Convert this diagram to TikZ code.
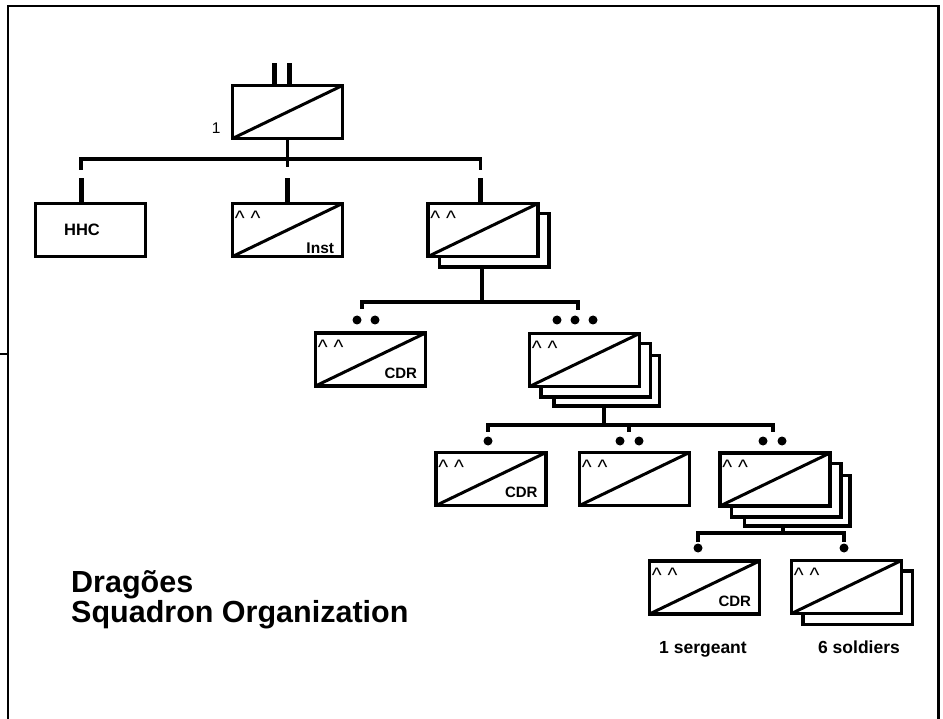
\documentclass[tikz,border=0pt]{standalone}
\usepackage{fontspec}
\setmainfont{Liberation Sans}
\usepackage{tikz}
\usetikzlibrary{backgrounds}
\tikzstyle{unit}=[draw, fill=white, line width=3.5pt, minimum width=110pt, minimum height=53pt, inner sep=0pt]
\tikzstyle{crossed}=[path picture={\draw[line width=3pt] (path picture bounding box.south west) -- (path picture bounding box.north east);}]
\tikzstyle{caret}=[anchor=north west, inner sep=0pt, xshift=4pt, yshift=-9pt, font=\fontsize{21}{21}\selectfont]
\tikzstyle{hats}=[label={[caret]north west:\textasciicircum\ \textasciicircum}]
\tikzstyle{tag}=[anchor=south east, inner sep=0pt, xshift=-10pt, yshift=9pt, font=\bfseries\fontsize{15}{15}\selectfont]
\tikzstyle{cdr}=[label={[tag]south east:CDR}]
\tikzstyle{link}=[line width=3.5pt]
\tikzstyle{stub}=[line width=5pt]
\tikzstyle{card}=[draw, fill=white, line width=3.5pt]
\tikzstyle{frame}=[line width=2.5pt]
\tikzstyle{caption}=[anchor=base, inner sep=0pt, font=\bfseries\fontsize{17.5}{20}\selectfont]
\tikzstyle{heading}=[anchor=base west, inner sep=0pt, font=\bfseries\fontsize{30.5}{30.5}\selectfont]

\begin{document}
\begin{tikzpicture}[x=1pt, y=-1pt]
	\useasboundingbox (0,0) rectangle (943,719);
	\draw[frame] (8,719) -- (8,6) -- (938.5,6) -- (938.5,719);
	\draw[frame] (0,354) -- (8,354);
	% squadron
	\node[unit, crossed, label={[anchor=east, inner sep=0pt, xshift=-10pt, yshift=-16pt, font=\fontsize{15.5}{15.5}\selectfont]west:1}] (sqn) at (287.5,112) {};
	% troops
	\node[unit, label={[font=\bfseries\fontsize{16.5}{16.5}\selectfont, xshift=-8.5pt]center:HHC}] (hhc) at (90.5,230) {};
	\node[unit, crossed, hats, label={[tag, yshift=-5pt, font=\bfseries\fontsize{15.5}{15.5}\selectfont]south east:Inst}] (inst) at (287.5,230) {};
	\node[unit, crossed, hats] (trp) at (483,230) {};
	% platoons
	\node[unit, crossed, hats, cdr] (cdra) at (370.5,359.5) {};
	\node[unit, crossed, hats] (plt) at (584.5,360) {};
	% sections
	\node[unit, crossed, hats, cdr] (cdrb) at (491,479) {};
	\node[unit, crossed, hats] (sec) at (634.5,479) {};
	\node[unit, crossed, hats] (grp) at (775,479.5) {};
	% squads
	\node[unit, crossed, hats, cdr] (cdrc) at (704.5,587.5) {};
	\node[unit, crossed, hats] (sold) at (846.5,587) {};
	\node[caption] (sgt) at (703,653) {1 sergeant};
	\node[caption] (men) at (859,653) {6 soldiers};
	\node[heading] (ttla) at (71,592) {Dragões};
	\node[heading] (ttlb) at (71,622) {Squadron Organization};
	% size marks
	\foreach \x/\y in {357/320, 375/320, 557/320, 575/320, 593/320, 488/441, 620/441, 639/441, 763/441, 782/441, 698/548, 844/548}
		\fill (\x,\y) circle (4.5pt);
	\begin{scope}[on background layer]
		\draw[stub] ([xshift=-13.5]sqn.north) -- ++(0,-21);
		\draw[stub] ([xshift=1.5]sqn.north) -- ++(0,-21);
		\coordinate (j1) at (287,159);
		\coordinate (j2) at (482,302);
		\coordinate (j3) at (604,425);
		\coordinate (j4) at (783,533);
		\draw[link] (sqn.south) -- ++(0,27);
		\draw[link] ([xshift=-9.5,yshift=32]hhc.north) |- (j1) -| ([xshift=-2.5,yshift=32]trp.north);
		\foreach \n/\d in {hhc/-9.5, inst/0, trp/-2.5}
			\draw[stub] ([xshift=\d]\n.north) -- ++(0,-24);
		\draw[link] ([xshift=-1]trp.south) -- (j2);
		\draw[link] ([xshift=-8.5,yshift=22]cdra.north) |- (j2) -| ([xshift=-6.5,yshift=22]plt.north);
		\draw[link] ([xshift=19.5]plt.south) -- (j3);
		\draw[link] ([xshift=-3,yshift=19]cdrb.north) |- (j3) -| ([xshift=-2,yshift=19]grp.north);
		\draw[link] ([xshift=-5.5,yshift=19]sec.north) -- ++(0,-7);
		\draw[link] ([xshift=8]grp.south) -- (j4);
		\draw[link] ([xshift=-6.5,yshift=17]cdrc.north) |- (j4) -| ([xshift=-2.5,yshift=17]sold.north);
		% stacked cards
		\foreach \n/\k in {trp/1, plt/2, plt/1, grp/2, grp/1, sold/1}
			\draw[card] ([shift={(13*\k,12*\k)}]\n.north west) rectangle ([shift={(9*\k,9*\k)}]\n.south east);
	\end{scope}
\end{tikzpicture}
\end{document}
